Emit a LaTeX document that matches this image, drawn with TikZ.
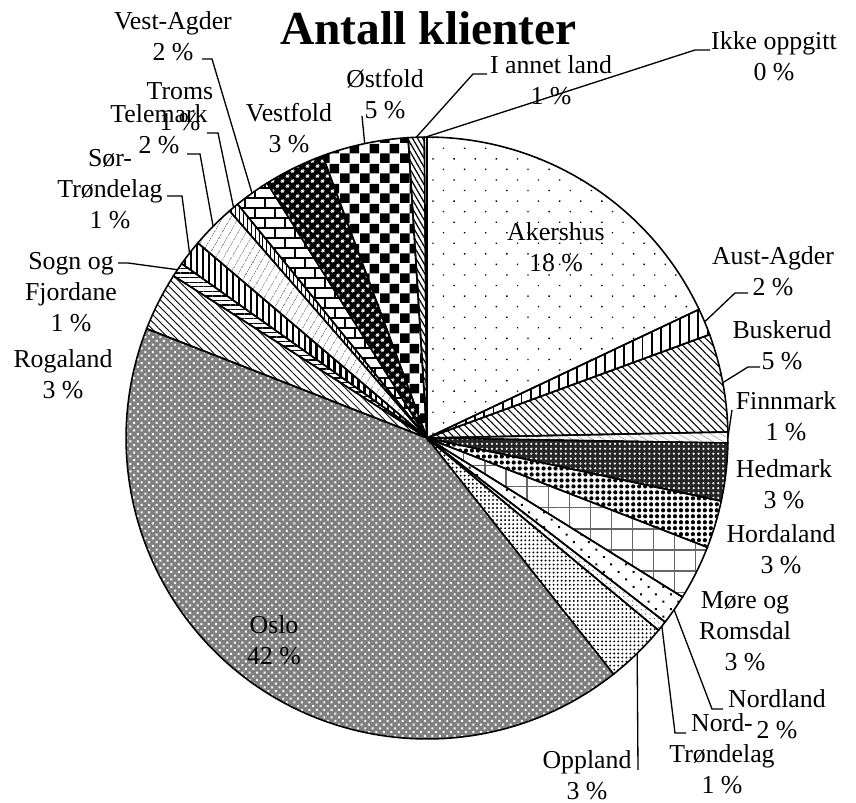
\documentclass[tikz,border=0pt]{standalone}
\usepackage{fontspec}
\setmainfont{Liberation Serif}
\usetikzlibrary{patterns,patterns.meta}

\tikzdeclarepattern{
  name=bigchecker,
  type=uncolored,
  bounding box={(0,0) and (11.4pt,11.4pt)},
  tile size={(11.4pt,11.4pt)},
  code={
    \fill (0,0) rectangle (5.7pt,5.7pt);
    \fill (5.7pt,5.7pt) rectangle (11.4pt,11.4pt);
  }
}

\tikzset{
  lbl/.style={align=center, inner sep=0pt, font=\fontsize{14.7}{17.6}\selectfont},
  leader/.style={line width=0.75pt},
  slice/.style={draw, line width=0.9pt},
  akershus/.style={pattern={Dots[angle=45,distance=8.5pt,radius=0.55pt]}},
  austagder/.style={pattern={Lines[angle=90,distance=5.3pt,line width=1.1pt]}},
  buskerud/.style={pattern={Lines[angle=-45,distance=3pt,line width=0.6pt]}},
  finnmark/.style={pattern={Lines[angle=-30,distance=3pt,line width=0.3pt]}, pattern color=black!40},
  hedmark/.style={preaction={fill=black!85}, pattern={Dots[distance=2.8pt,radius=0.7pt]}, pattern color=white},
  hordaland/.style={pattern={Dots[distance=3.4pt,radius=1.2pt]}},
  more/.style={pattern={Hatch[angle=0,distance=12pt,line width=0.7pt]}, pattern color=black!60},
  nordland/.style={pattern={Dots[angle=45,distance=6pt,radius=0.8pt]}},
  nordtrondelag/.style={pattern={Dots[distance=2.5pt,radius=0.35pt]}, pattern color=black!70},
  oppland/.style={pattern={Dots[distance=2.3pt,radius=0.6pt]}},
  oslo/.style={preaction={fill=black!50}, pattern={Dots[angle=45,distance=3pt,radius=0.8pt]}, pattern color=white},
  rogaland/.style={pattern={Lines[angle=-45,distance=3pt,line width=0.5pt]}},
  sogn/.style={pattern={Lines[angle=0,distance=2.6pt,line width=0.8pt]}},
  sortrondelag/.style={pattern={Lines[angle=90,distance=3.4pt,line width=1.3pt]}},
  telemark/.style={pattern={Lines[angle=60,distance=4pt,line width=0.5pt]}, pattern color=black!55},
  troms/.style={pattern={Lines[angle=90,distance=2.2pt,line width=0.5pt]}},
  vestagder/.style={pattern=bricks},
  vestfold/.style={preaction={fill=black}, pattern={Dots[angle=45,distance=4pt,radius=1pt]}, pattern color=white},
  ostfold/.style={pattern=bigchecker},
  iannetland/.style={pattern={Lines[angle=-60,distance=2.5pt,line width=0.7pt]}},
  ikke/.style={fill=white}
}

\begin{document}
\begin{tikzpicture}[x=0.02cm, y=-0.02cm]
    \useasboundingbox (0,0) rectangle (856,803);

    % Sektorer
    \begin{scope}[shift={(427,438)}]
        \foreach \a/\b/\s in {90/25.3/akershus, 25.3/20.1/austagder, 20.1/1.15/buskerud,
                1.15/-0.96/finnmark, -0.96/-12.1/hedmark, -12.1/-21.3/hordaland,
                -21.3/-31.9/more, -31.9/-37.7/nordland, -37.7/-39.7/nordtrondelag,
                -39.7/-51.7/oppland, -51.7/-201.3/oslo, -201.3/-212.6/rogaland,
                -212.6/-215.4/sogn, -215.4/-220.4/sortrondelag, -220.4/-229/telemark,
                -229/-231/troms, -231/-237.9/vestagder, -237.9/-249.7/vestfold,
                -249.7/-266.4/ostfold, -266.4/-269.5/iannetland, -269.5/-270/ikke}
            \draw[slice,\s] (0,0) -- (\a:6.02cm) arc[start angle=\a, end angle=\b, radius=6.02cm] -- cycle;

        % Punkter på sirkelen
        \coordinate (va-p) at (125.55:6.02cm);
        \coordinate (tr-p) at (130:6.02cm);
        \coordinate (te-p) at (135.3:6.02cm);
        \coordinate (st-p) at (142.1:6.02cm);
        \coordinate (sf-p) at (146:6.02cm);
        \coordinate (os-p) at (101.95:6.02cm);
        \coordinate (ia-p) at (92.05:6.02cm);
        \coordinate (io-p) at (90.25:6.02cm);
        \coordinate (aa-p) at (22.7:6.02cm);
        \coordinate (bu-p) at (10.6:6.02cm);
        \coordinate (fi-p) at (0.1:6.02cm);
        \coordinate (nl-p) at (-34.8:6.02cm);
        \coordinate (nt-p) at (-38.7:6.02cm);
        \coordinate (op-p) at (-45.7:6.02cm);
    \end{scope}

    % Tittel
    \node[anchor=base, inner sep=0pt, font=\fontsize{27}{32}\selectfont\bfseries] (title) at (428.5,45) {Antall klienter};

    % Etiketter
    \node[lbl] (vestagder)     at (173,36)    {Vest-Agder\\2 \%};
    \node[lbl] (troms)         at (180,106.5) {Troms\\1 \%};
    \node[lbl] (telemark)      at (159,129.5) {Telemark\\2 \%};
    \node[lbl] (sortrondelag)  at (110,189)   {Sør-\\Trøndelag\\1 \%};
    \node[lbl] (sogn)          at (71,292)    {Sogn og\\Fjordane\\1 \%};
    \node[lbl] (rogaland)      at (63,374.5)  {Rogaland\\3 \%};
    \node[lbl] (vestfold)      at (289,128.5) {Vestfold\\3 \%};
    \node[lbl] (ostfold)       at (385,94.5)  {Østfold\\5 \%};
    \node[lbl] (iannetland)    at (551,80)    {I annet land\\1 \%};
    \node[lbl] (ikke)          at (774,56.5)  {Ikke oppgitt\\0 \%};
    \node[lbl] (akershus)      at (556,247.5) {Akershus\\18 \%};
    \node[lbl] (austagder)     at (773,271)   {Aust-Agder\\2 \%};
    \node[lbl] (buskerud)      at (782,345)   {Buskerud\\5 \%};
    \node[lbl] (finnmark)      at (786,416)   {Finnmark\\1 \%};
    \node[lbl] (hedmark)       at (784,484)   {Hedmark\\3 \%};
    \node[lbl] (hordaland)     at (781,549)   {Hordaland\\3 \%};
    \node[lbl] (more)          at (745,631.5) {Møre og\\Romsdal\\3 \%};
    \node[lbl] (nordland)      at (777,714.5) {Nordland\\2 \%};
    \node[lbl] (nordtrondelag) at (722,754)   {Nord-\\Trøndelag\\1 \%};
    \node[lbl] (oppland)       at (587,775.5) {Oppland\\3 \%};
    \node[lbl] (oslo)          at (274,640.5) {Oslo\\42 \%};

    % Linjer fra etikettene
    \coordinate (va-l) at (202,59);
    \coordinate (tr-l) at (207,133);
    \coordinate (te-l) at (187,154);
    \coordinate (st-l) at (167,196);
    \coordinate (sf-l) at (118,263);
    \coordinate (os-l) at (362,116);
    \coordinate (ia-l) at (487,74);
    \coordinate (io-l) at (710,50);
    \coordinate (aa-l) at (748,293);
    \coordinate (bu-l) at (760,367);
    \coordinate (fi-l) at (732,410);
    \coordinate (nl-l) at (723,709);
    \coordinate (nt-l) at (686,733);
    \coordinate (op-l) at (638,770);

    \draw[leader] (va-l) -- ++(10,0) -- (va-p);
    \draw[leader] (tr-l) -- ++(11,0) -- (tr-p);
    \draw[leader] (te-l) -- ++(13,0) -- (te-p);
    \draw[leader] (st-l) -- ++(15,0) -- (st-p);
    \draw[leader] (sf-l) -- ++(10,0) -- (sf-p);
    \draw[leader] (os-l) -- (os-p);
    \draw[leader] (ia-l) -- ++(-14,0) -- (ia-p);
    \draw[leader] (io-l) -- ++(-15,0) -- (io-p);
    \draw[leader] (aa-l) -- ++(-13,0) -- (aa-p);
    \draw[leader] (bu-l) -- ++(-12,0) -- (bu-p);
    \draw[leader] (fi-l) -- (fi-p);
    \draw[leader] (nl-l) -- ++(-11,0) -- (nl-p);
    \draw[leader] (nt-l) -- ++(-11,0) -- (nt-p);
    \draw[leader] (op-l) -- (op-p);
\end{tikzpicture}
\end{document}
